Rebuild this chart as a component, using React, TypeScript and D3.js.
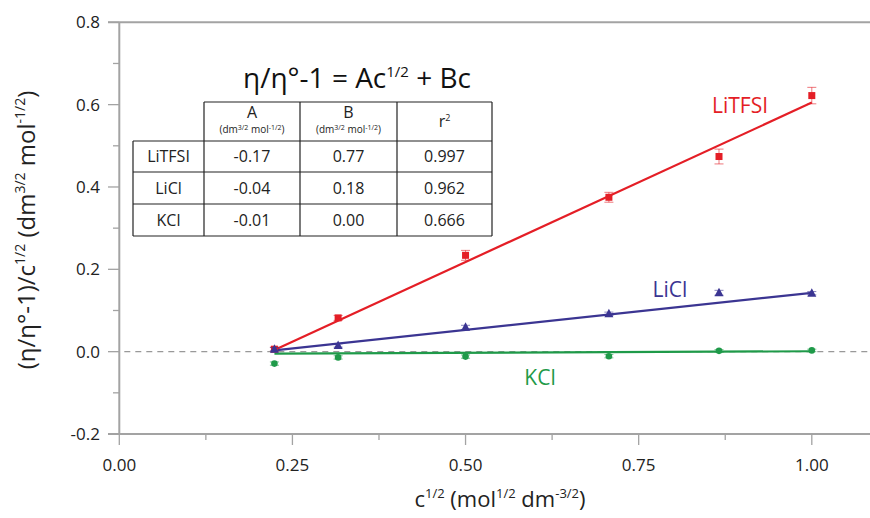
import React from "react";
import * as d3 from "d3";

// ---- data ----
const cHalf = [0.224, 0.316, 0.5, 0.707, 0.866, 1.0];
const litfsiVals = [0.006, 0.082, 0.234, 0.375, 0.474, 0.622];
const litfsiErr = [0.005, 0.006, 0.012, 0.012, 0.018, 0.02];
const liclVals = [0.006, 0.015, 0.059, 0.092, 0.143, 0.142];
const liclErr = [0.004, 0.004, 0.005, 0.004, 0.006, 0.004];
const kclVals = [-0.029, -0.014, -0.012, -0.011, 0.002, 0.003];
const kclErr = [0.004, 0.004, 0.004, 0.004, 0.003, 0.003];

const seriesNames = ["LiTFSI", "LiCl", "KCl"];
const fitStart = [0.004, 0.003, -0.005];
const fitEnd = [0.605, 0.143, 0.001];

const colA = ["-0.17", "-0.04", "-0.01"];
const colB = ["0.77", "0.18", "0.00"];
const colR2 = ["0.997", "0.962", "0.666"];

const yTicks = [-0.2, 0, 0.2, 0.4, 0.6, 0.8];
const yMinor = [-0.1, 0.1, 0.3, 0.5, 0.7];
const xTicks = [0, 0.25, 0.5, 0.75, 1.0];
const xMinor = [0.125, 0.375, 0.625, 0.875];

const W = 870, H = 518;
const FONT = "'Open Sans', 'Noto Sans', sans-serif";
const AX = "#a3a3a3";
const colors = ["#e41e26", "#3b3592", "#1f9a49"];

export default function App() {
  const x = d3.scaleLinear().domain([0, 1]).range([119.3, 811.8]);
  const y = d3.scaleLinear().domain([-0.2, 0.8]).range([434, 22.3]);
  const x0 = x(0), xEnd = W;
  const series = [
    { vals: litfsiVals, err: litfsiErr },
    { vals: liclVals, err: liclErr },
    { vals: kclVals, err: kclErr },
  ];
  const line = d3.line<[number, number]>().x(d => x(d[0])).y(d => y(d[1]));
  const fy = (t: number) => d3.format(".1f")(t).replace("\u2212", "-");

  const marker = (si: number, cx: number, cy: number, key: string) => {
    const c = colors[si];
    if (si === 0) return <rect key={key} x={cx - 3.5} y={cy - 3.5} width={7} height={7} fill={c} />;
    if (si === 1) {
      const p = d3.path();
      p.moveTo(cx, cy - 5); p.lineTo(cx + 4.5, cy + 3.5); p.lineTo(cx - 4.5, cy + 3.5); p.closePath();
      return <path key={key} d={p.toString()} fill={c} />;
    }
    return <circle key={key} cx={cx} cy={cy} r={3.3} fill={c} />;
  };

  // table geometry
  const colX = [133, 204, 300, 397, 492];
  const rowY = [102, 141, 172, 204, 236];
  const tColor = "#222";

  const units = (
    <>(dm<tspan fontSize={7} dy={-3.5}>3/2</tspan><tspan dy={3.5}> mol</tspan><tspan fontSize={7} dy={-3.5}>-1/2</tspan><tspan dy={3.5}>)</tspan></>
  );

  return (
    <svg width={W} height={H} style={{ position: "absolute", left: 0, top: 0, background: "#fff" }} fontFamily={FONT}>
      {/* axes frame */}
      <line x1={108} x2={xEnd} y1={y(0.8)} y2={y(0.8)} stroke={AX} strokeWidth={2} />
      <line x1={108} x2={xEnd} y1={y(-0.2)} y2={y(-0.2)} stroke={AX} strokeWidth={2} />
      <line x1={x0} x2={x0} y1={y(0.8)} y2={y(-0.2)} stroke={AX} strokeWidth={2} />
      {yTicks.map(t => (
        <g key={"yt" + t}>
          <line x1={108} x2={x0} y1={y(t)} y2={y(t)} stroke={AX} strokeWidth={1.3} />
          <text x={100} y={y(t)} dy="0.35em" textAnchor="end" fontSize={17} fill="#222">{fy(t)}</text>
        </g>
      ))}
      {yMinor.map(t => (
        <line key={"ym" + t} x1={113} x2={x0} y1={y(t)} y2={y(t)} stroke={AX} strokeWidth={1.3} />
      ))}
      {xTicks.map(t => (
        <g key={"xt" + t}>
          <line x1={x(t)} x2={x(t)} y1={y(-0.2)} y2={y(-0.2) + 11} stroke={AX} strokeWidth={1.3} />
          <text x={x(t)} y={465} dy="0.35em" textAnchor="middle" fontSize={17} fill="#222">{d3.format(".2f")(t)}</text>
        </g>
      ))}
      {xMinor.map(t => (
        <line key={"xm" + t} x1={x(t)} x2={x(t)} y1={y(-0.2)} y2={y(-0.2) + 6} stroke={AX} strokeWidth={1.3} />
      ))}
      {/* zero dashed line */}
      <line x1={x0 + 5} x2={xEnd} y1={y(0)} y2={y(0)} stroke="#999" strokeWidth={1.3} strokeDasharray="6,5" />

      {/* fit lines */}
      {seriesNames.map((n, si) => (
        <path key={"fit" + n} d={line([[cHalf[0], fitStart[si]], [cHalf[cHalf.length - 1], fitEnd[si]]]) || ""}
          stroke={colors[si]} strokeWidth={2.2} fill="none" />
      ))}

      {/* points with error bars */}
      {series.map((s, si) => (
        <g key={"s" + si}>
          {s.vals.map((v, i) => {
            const cx = x(cHalf[i]);
            const yt = y(v + s.err[i]), yb = y(v - s.err[i]);
            return (
              <g key={i}>
                <line x1={cx} x2={cx} y1={yt} y2={yb} stroke={colors[si]} strokeWidth={1} opacity={0.6} />
                <line x1={cx - 4.5} x2={cx + 4.5} y1={yt} y2={yt} stroke={colors[si]} strokeWidth={1} opacity={0.6} />
                <line x1={cx - 4.5} x2={cx + 4.5} y1={yb} y2={yb} stroke={colors[si]} strokeWidth={1} opacity={0.6} />
                {marker(si, cx, y(v), "m" + i)}
              </g>
            );
          })}
        </g>
      ))}

      {/* series labels */}
      <text x={740} y={106} dy="0.35em" textAnchor="middle" fontSize={21} fill={colors[0]}>{seriesNames[0]}</text>
      <text x={670} y={290} dy="0.35em" textAnchor="middle" fontSize={21} fill={colors[1]}>{seriesNames[1]}</text>
      <text x={540} y={378} dy="0.35em" textAnchor="middle" fontSize={21} fill={colors[2]}>{seriesNames[2]}</text>

      {/* equation */}
      <text x={357} y={88} textAnchor="middle" fontSize={28} fill="#111">
        η/η°-1 = Ac<tspan fontSize={15} dy={-11}>1/2</tspan><tspan dy={11}> + Bc</tspan>
      </text>

      {/* table */}
      <g stroke="#222" strokeWidth={1.2} fill="none">
        <line x1={colX[1]} x2={colX[4]} y1={rowY[0]} y2={rowY[0]} />
        {rowY.slice(1).map(r => <line key={"r" + r} x1={colX[0]} x2={colX[4]} y1={r} y2={r} />)}
        <line x1={colX[0]} x2={colX[0]} y1={rowY[1]} y2={rowY[4]} />
        {colX.slice(1).map(c => <line key={"c" + c} x1={c} x2={c} y1={rowY[0]} y2={rowY[4]} />)}
      </g>
      <g fontSize={16} fill={tColor} textAnchor="middle">
        <text x={(colX[1] + colX[2]) / 2} y={118}>A</text>
        <text x={(colX[1] + colX[2]) / 2} y={133} fontSize={10}>{units}</text>
        <text x={(colX[2] + colX[3]) / 2} y={118}>B</text>
        <text x={(colX[2] + colX[3]) / 2} y={133} fontSize={10}>{units}</text>
        <text x={(colX[3] + colX[4]) / 2} y={127}>r<tspan fontSize={9} dy={-6}>2</tspan></text>
        {seriesNames.map((n, i) => {
          const cy = (rowY[i + 1] + rowY[i + 2]) / 2;
          return (
            <g key={"row" + n}>
              <text x={(colX[0] + colX[1]) / 2} y={cy} dy="0.35em">{n}</text>
              <text x={(colX[1] + colX[2]) / 2} y={cy} dy="0.35em">{colA[i]}</text>
              <text x={(colX[2] + colX[3]) / 2} y={cy} dy="0.35em">{colB[i]}</text>
              <text x={(colX[3] + colX[4]) / 2} y={cy} dy="0.35em">{colR2[i]}</text>
            </g>
          );
        })}
      </g>

      {/* axis titles */}
      <text transform="translate(35,230) rotate(-90)" textAnchor="middle" fontSize={24} fill="#222">
        (η/η°-1)/c<tspan fontSize={14} dy={-10}>1/2</tspan><tspan dy={10}> (dm</tspan><tspan fontSize={14} dy={-10}>3/2</tspan><tspan dy={10}> mol</tspan><tspan fontSize={14} dy={-10}>-1/2</tspan><tspan dy={10}>)</tspan>
      </text>
      <text x={500} y={507} textAnchor="middle" fontSize={22} fill="#222">
        c<tspan fontSize={13} dy={-9}>1/2</tspan><tspan dy={9}> (mol</tspan><tspan fontSize={13} dy={-9}>1/2</tspan><tspan dy={9}> dm</tspan><tspan fontSize={13} dy={-9}>-3/2</tspan><tspan dy={9}>)</tspan>
      </text>
    </svg>
  );
}
